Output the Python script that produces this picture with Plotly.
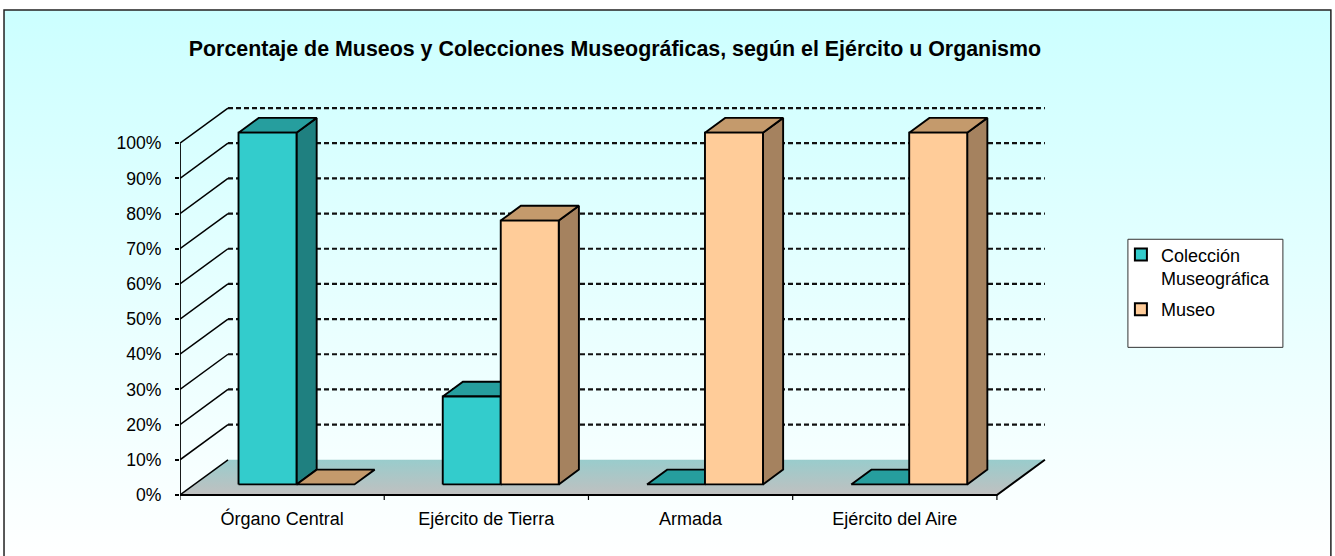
import base64
import plotly.graph_objects as go

# ---------------- data ----------------
categories = ["Órgano Central", "Ejército de Tierra", "Armada", "Ejército del Aire"]
series_names = ["Colección<br>Museográfica", "Museo"]
coleccion = [100, 25, 0, 0]
museo = [0, 75, 100, 100]
y_ticks = [0, 10, 20, 30, 40, 50, 60, 70, 80, 90, 100]
y_tick_labels = ["0%", "10%", "20%", "30%", "40%", "50%", "60%", "70%", "80%", "90%", "100%"]
title_text = "Porcentaje de Museos y Colecciones Museográficas, según el Ejército u Organismo"

# ---------------- styling / geometry ----------------
W, H = 1335, 556
FONT = "Arial, Liberation Sans, sans-serif"
front_cols = ["#33CCCC", "#FFCC99"]
top_cols = ["#269E9E", "#C49A6C"]
side_cols = ["#1F8080", "#A5825F"]

SX = 204.25          # px per category unit
SY = 3.515           # px per percent unit
X0PX, Y0PX = 180, 494.5
D = 48 / SX          # depth offset (x, data units)
DY = 10.0            # depth offset (y, data units)
BW = 58 / SX         # bar width
F0, F1 = 0.30, 0.72  # bar depth fractions

n = len(categories)
xr = [-0.5, n - 0.5 + D + 0.02]
yr = [-2.0, 112.0]
pw = (xr[1] - xr[0]) * SX
ph = (yr[1] - yr[0]) * SY
ml = X0PX
mr = W - ml - pw
mb = H - (Y0PX - yr[0] * SY)
mt = H - mb - ph


def px2paper_x(px):
    return (px - ml) / pw


def px2paper_y(py):
    return (H - mb - py) / ph


fig = go.Figure()


def poly(xs, ys, fill, lw=1.9, lcol="black"):
    fig.add_trace(go.Scatter(
        x=list(xs) + [xs[0]], y=list(ys) + [ys[0]], mode="lines", fill="toself",
        fillcolor=fill, line=dict(color=lcol, width=lw), hoverinfo="skip",
        showlegend=False))


def seg_trace(xs, ys, width=1.6, dash="solid", color="black"):
    fig.add_trace(go.Scatter(x=xs, y=ys, mode="lines",
                             line=dict(color=color, width=width, dash=dash),
                             hoverinfo="skip", showlegend=False))


# floor
fx0, fx1 = -0.5, n - 0.5
fig.add_trace(go.Scatter(
    x=[fx0, fx1, fx1 + D, fx0 + D, fx0], y=[0, 0, DY, DY, 0], mode="lines",
    fill="toself", line=dict(width=0, color="rgba(0,0,0,0)"),
    fillgradient=dict(type="vertical", colorscale=[[0, "#C0C0C0"], [1, "#99CCCC"]]),
    hoverinfo="skip", showlegend=False))

# back-wall dashed gridlines
gx, gy = [], []
for v in y_ticks[1:]:
    gx += [fx0 + D, fx1 + D, None]
    gy += [v + DY, v + DY, None]
seg_trace(gx, gy, width=2.2, dash="5px,3px", color="#111111")

# left wall diagonals
lx, ly = [], []
for v in y_ticks:
    lx += [fx0, fx0 + D, None]
    ly += [v, v + DY, None]
seg_trace(lx, ly, width=1.5)
# vertical axis line
seg_trace([fx0, fx0], [0, y_ticks[-1]], width=1.8)

# floor front & right edges
seg_trace([fx0, fx1, fx1 + D], [0, 0, DY], width=2)

# category boundary ticks
tx, ty = [], []
for k in range(n + 1):
    tx += [fx0 + k, fx0 + k, None]
    ty += [0, -5 / SY, None]
seg_trace(tx, ty, width=1.2)

# bars
values = [coleccion, museo]
fxo, fyo = F0 * D, F0 * DY
bxo, byo = F1 * D, F1 * DY
for i in range(n):
    for s in range(2):
        v = values[s][i]
        x0 = i - BW + s * BW
        x1 = x0 + BW
        if v > 0:
            poly([x1 + fxo, x1 + bxo, x1 + bxo, x1 + fxo],
                 [fyo, byo, byo + v, fyo + v], side_cols[s])
        poly([x0 + fxo, x1 + fxo, x1 + bxo, x0 + bxo],
             [fyo + v, fyo + v, byo + v, byo + v], top_cols[s])
        if v > 0:
            poly([x0 + fxo, x1 + fxo, x1 + fxo, x0 + fxo],
                 [fyo, fyo, fyo + v, fyo + v], front_cols[s])

# legend entries
for s in range(2):
    fig.add_trace(go.Bar(x=[None], y=[None], name=series_names[s],
                         marker=dict(color=front_cols[s], line=dict(color="black", width=2)),
                         legendgroup=str(s), hoverinfo="skip"))

# background gradient
svg = ('<svg xmlns="http://www.w3.org/2000/svg" width="100" height="100" preserveAspectRatio="none">'
       '<defs><linearGradient id="g" x1="0" y1="0" x2="0" y2="1">'
       '<stop offset="0" stop-color="#CCFFFF"/><stop offset="1" stop-color="#FFFFFF"/>'
       '</linearGradient></defs><rect width="100" height="100" fill="url(#g)"/></svg>')
src = "data:image/svg+xml;base64," + base64.b64encode(svg.encode()).decode()

fig.update_layout(
    width=W, height=H,
    margin=dict(l=ml, r=mr, t=mt, b=mb, pad=0),
    paper_bgcolor="white", plot_bgcolor="rgba(0,0,0,0)",
    font=dict(family=FONT, size=18, color="black"),
    showlegend=True,
    title=dict(text="<b>" + title_text + "</b>", font=dict(family=FONT, size=21.4, color="black"),
               x=px2paper_x(615), xref="paper", xanchor="center",
               y=1 - 49 / H, yref="container", yanchor="middle"),
    xaxis=dict(range=xr, tickvals=list(range(n)), ticktext=categories, showgrid=False,
               zeroline=False, showline=False, ticks="", tickfont=dict(size=18, family=FONT),
               ticklabelstandoff=4, fixedrange=True),
    yaxis=dict(range=yr, tickvals=y_ticks, ticktext=y_tick_labels, showgrid=False,
               zeroline=False, showline=False, ticks="outside", ticklen=4, tickwidth=1.5,
               tickcolor="black", tickfont=dict(size=17.6, family=FONT), ticklabelstandoff=10,
               fixedrange=True),
    legend=dict(x=px2paper_x(1121), y=px2paper_y(236), xanchor="left", yanchor="top",
                xref="paper", yref="paper", bgcolor="rgba(0,0,0,0)", borderwidth=0,
                valign="top", tracegroupgap=5, font=dict(size=18, family=FONT, color="black"),
                itemclick=False, itemdoubleclick=False),
    images=[dict(source=src, xref="paper", yref="paper", x=px2paper_x(4), y=px2paper_y(10),
                 sizex=(1331 - 4) / pw, sizey=(560 - 10) / ph, sizing="stretch",
                 xanchor="left", yanchor="top", layer="below")],
    shapes=[
        dict(type="rect", xref="paper", yref="paper", x0=px2paper_x(4), x1=px2paper_x(1331),
             y0=px2paper_y(10), y1=px2paper_y(562), line=dict(color="#222222", width=1.5),
             fillcolor="rgba(0,0,0,0)", layer="below"),
        dict(type="rect", xref="paper", yref="paper", x0=px2paper_x(1128), x1=px2paper_x(1283),
             y0=px2paper_y(239), y1=px2paper_y(347), line=dict(color="#333333", width=1),
             fillcolor="white", layer="below"),
    ],
)

fig.write_html("out.html", config={"displayModeBar": False},
               post_script="document.body.style.margin='0';")
